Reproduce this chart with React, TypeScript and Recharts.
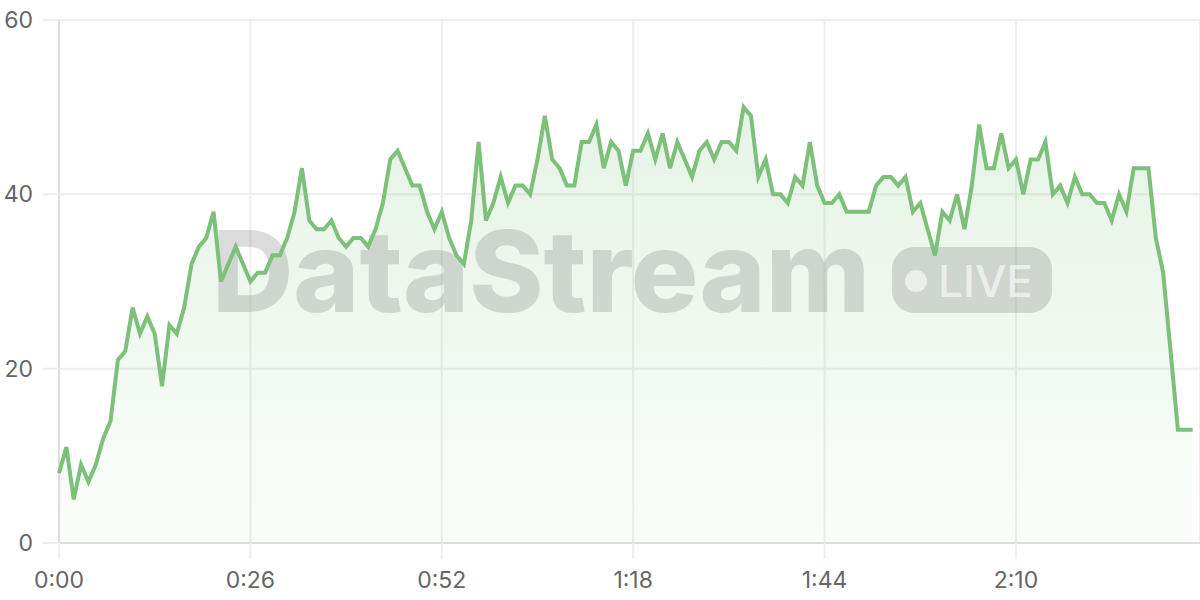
import React from 'react'
import { ComposedChart, Area, Line, XAxis, YAxis, CartesianGrid } from 'recharts'

// one sample per second, 0:00 .. 2:34
const values = [
  8, 11, 5, 9, 7, 9, 12, 14, 21, 22,
  27, 24, 26, 24, 18, 25, 24, 27, 32, 34,
  35, 38, 30, 32, 34, 32, 30, 31, 31, 33,
  33, 35, 38, 43, 37, 36, 36, 37, 35, 34,
  35, 35, 34, 36, 39, 44, 45, 43, 41, 41,
  38, 36, 38, 35, 33, 32, 37, 46, 37, 39,
  42, 39, 41, 41, 40, 44, 49, 44, 43, 41,
  41, 46, 46, 48, 43, 46, 45, 41, 45, 45,
  47, 44, 47, 43, 46, 44, 42, 45, 46, 44,
  46, 46, 45, 50, 49, 42, 44, 40, 40, 39,
  42, 41, 46, 41, 39, 39, 40, 38, 38, 38,
  38, 41, 42, 42, 41, 42, 38, 39, 36, 33,
  38, 37, 40, 36, 41, 48, 43, 43, 47, 43,
  44, 40, 44, 44, 46, 40, 41, 39, 42, 40,
  40, 39, 39, 37, 40, 38, 43, 43, 43, 35,
  31, 22, 13, 13, 13,
]
const xTicks = [0, 26, 52, 78, 104, 130]
const yTicks = [0, 20, 40, 60]

const data = values.map((v, i) => ({ t: i, v }))

const W = 1200
const H = 600
const GREEN = '#7cc07a'
const FONT = 'Inter, "Noto Sans", sans-serif'

const fmtTime = (s: number) => `${Math.floor(s / 60)}:${String(s % 60).padStart(2, '0')}`

const layer: React.CSSProperties = { position: 'absolute', left: 0, top: 0 }

function Watermark() {
  return (
    <svg width={W} height={H} style={{ ...layer, pointerEvents: 'none' }}>
      <text x={212} y={312} fontFamily={FONT} fontWeight={800} fontSize={113}
        fill="#888" fillOpacity={0.3} textLength={658} lengthAdjust="spacingAndGlyphs">
        DataStream
      </text>
      <rect x={892} y={247} width={160} height={66} rx={22} fill="#888" fillOpacity={0.3} />
      <circle cx={916} cy={281} r={11} fill="#fff" fillOpacity={0.6} />
      <text x={938} y={297} fontFamily={FONT} fontWeight={500} fontSize={44}
        fill="#fff" fillOpacity={0.6} textLength={95} lengthAdjust="spacingAndGlyphs">
        LIVE
      </text>
    </svg>
  )
}

export default function App() {
  const tick = { fill: '#666', fontSize: 23, fontFamily: FONT }
  return (
    <div style={{ position: 'relative', width: W, height: H }}>
      <style>{'body{margin:0}'}</style>

      {/* bottom layer: grid, axes, area fill */}
      <div style={layer}>
        <ComposedChart width={W} height={H} data={data} margin={{ top: 20, right: 0, bottom: 0, left: 0 }}>
          <defs>
            <linearGradient id="areaFill" x1="0" y1="0" x2="0" y2="1">
              <stop offset="0%" stopColor={GREEN} stopOpacity={0.32} />
              <stop offset="100%" stopColor={GREEN} stopOpacity={0.06} />
            </linearGradient>
          </defs>
          <CartesianGrid stroke="#eee" strokeWidth={2} />
          <XAxis
            dataKey="t"
            type="number"
            domain={[0, 155]}
            ticks={xTicks}
            tickFormatter={fmtTime}
            height={57}
            tickSize={16}
            tickMargin={13}
            tick={tick}
            axisLine={{ stroke: '#ddd', strokeWidth: 2 }}
            tickLine={{ stroke: '#eee', strokeWidth: 2 }}
          />
          <YAxis
            domain={[0, 60]}
            ticks={yTicks}
            width={59}
            tickSize={16}
            tickMargin={10}
            tick={tick}
            axisLine={{ stroke: '#ddd', strokeWidth: 2 }}
            tickLine={{ stroke: '#eee', strokeWidth: 2 }}
          />
          <Area type="linear" dataKey="v" stroke="none" fill="url(#areaFill)" isAnimationActive={false} />
        </ComposedChart>
      </div>

      <Watermark />

      {/* top layer: the line itself */}
      <div style={layer}>
        <ComposedChart width={W} height={H} data={data} margin={{ top: 20, right: 0, bottom: 57, left: 59 }}>
          <XAxis dataKey="t" type="number" domain={[0, 155]} hide />
          <YAxis domain={[0, 60]} hide />
          <Line type="linear" dataKey="v" stroke={GREEN} strokeWidth={4} dot={false} isAnimationActive={false} />
        </ComposedChart>
      </div>
    </div>
  )
}
